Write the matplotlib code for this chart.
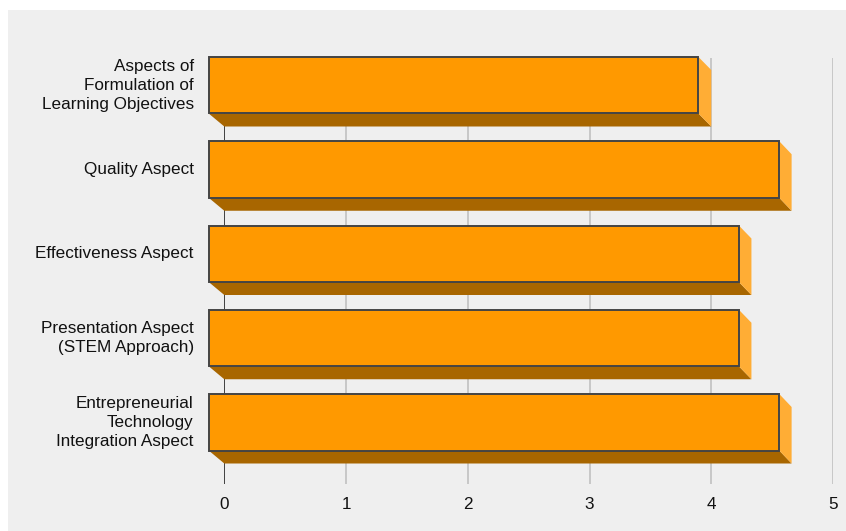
import matplotlib
matplotlib.use("Agg")
import matplotlib.pyplot as plt
from matplotlib.patches import Rectangle, Polygon
from matplotlib.transforms import Affine2D, IdentityTransform, offset_copy

categories = [
    "Aspects of\nFormulation of\nLearning Objectives",
    "Quality Aspect",
    "Effectiveness Aspect",
    "Presentation Aspect\n(STEM Approach)",
    "Entrepreneurial\nTechnology\nIntegration Aspect",
]
values = [4.0, 4.66, 4.33, 4.33, 4.66]
xticks = [0, 1, 2, 3, 4, 5]

W, H = 846, 531
fig = plt.figure(figsize=(W / 100, H / 100), dpi=100)
fig.patch.set_facecolor("white")
fig.patches.append(Rectangle((8 / W, 0), 1 - 8 / W, (H - 10) / H,
                             transform=fig.transFigure, facecolor="#efefef",
                             edgecolor="none", zorder=-5))

# back plane of the 3D chart
x0, x1 = 224.3, 833.0
ytop, ybot = 58.0, 484.0
ax = fig.add_axes([x0 / W, (H - ybot) / H, (x1 - x0) / W, (ybot - ytop) / H])
ax.set_zorder(2)
ax.set_facecolor("none")
for s in ax.spines.values():
    s.set_visible(False)

unit_y = 84.25
ax.set_xlim(0, 5)
ax.set_ylim((ybot - ytop) / unit_y, 0)

# gridlines
for t in xticks:
    ax.axvline(t, color="#333333" if t == 0 else "#c4c4c4", lw=1.3, zorder=1)

ax.set_xticks(xticks)
ax.set_xticklabels([str(t) for t in xticks], fontsize=12.3, family="Liberation Sans",
                   color="#111111")
ax.tick_params(axis="x", length=0, pad=9.5)
ax.set_yticks([])

# front plane transform (perspective-ish shift)
s = 122.6 / 121.9
front_tr = ax.transData + Affine2D().translate(-x0, 0).scale(s, 1).translate(208.7, 13)

bar_top = (70 - ytop) / unit_y
bar_h = 56.5 / unit_y

fig.canvas.draw()
for i, v in enumerate(values):
    yt = i + bar_top
    yb = yt + bar_h
    # back/front corners in display coordinates
    b_tr, b_br = ax.transData.transform([(v, yt), (v, yb)])
    b_bl = ax.transData.transform((0, yb))
    f_tr, f_br = front_tr.transform([(v, yt), (v, yb)])
    f_bl = front_tr.transform((0, yb))
    # bottom face
    ax.add_patch(Polygon([f_bl, f_br, b_br, b_bl], closed=True,
                         transform=IdentityTransform(), facecolor="#a86600",
                         edgecolor="none", zorder=3, clip_on=False))
    # right face
    ax.add_patch(Polygon([f_tr, b_tr, b_br, f_br], closed=True,
                         transform=IdentityTransform(), facecolor="#ffad35",
                         edgecolor="none", zorder=3, clip_on=False))
    # front face
    ax.barh(i + bar_top + bar_h / 2, v, height=bar_h, left=0, color="#ff9900",
            edgecolor="#444444", linewidth=1.4, transform=front_tr, zorder=4,
            clip_on=False)
    lab_tr = offset_copy(front_tr, fig=fig, x=-15, y=0, units="dots")
    ax.text(0, i + bar_top + bar_h / 2, categories[i], transform=lab_tr,
            ha="right", va="center", fontsize=12.3, family="Liberation Sans",
            color="#111111", linespacing=1.33)

ax.set_xlim(0, 5)
ax.set_ylim((ybot - ytop) / unit_y, 0)
fig.savefig("out.png", dpi=100)
